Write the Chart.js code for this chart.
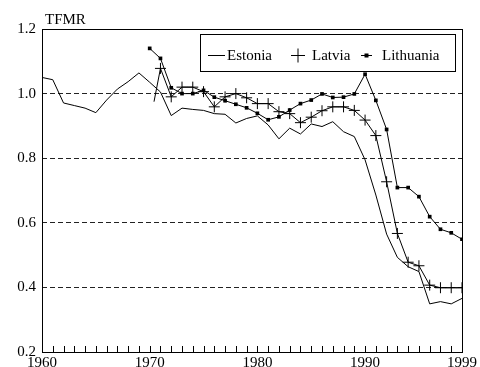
<!DOCTYPE html>
<html>
<head>
<meta charset="utf-8">
<script src="https://cdn.jsdelivr.net/npm/chart.js@4"></script>
<style>
  html, body { margin: 0; padding: 0; background: #fff; }
  canvas { display: block; }
</style>
</head>
<body>
<canvas id="tfmrChart" width="480" height="367"></canvas>
<script>
// Total first marriage rate (TFMR) in the Baltic states

const estoniaYears = [1960, 1961, 1962, 1963, 1964, 1965, 1966, 1967, 1968, 1969,
  1970, 1971, 1972, 1973, 1974, 1975, 1976, 1977, 1978, 1979,
  1980, 1981, 1982, 1983, 1984, 1985, 1986, 1987, 1988, 1989,
  1990, 1991, 1992, 1993, 1994, 1995, 1996, 1997, 1998, 1999];
const estoniaTfmr = [1.050, 1.043, 0.971, 0.963, 0.955, 0.941, 0.980, 1.014, 1.037, 1.064,
  1.035, 1.005, 0.932, 0.955, 0.951, 0.948, 0.938, 0.936, 0.909, 0.923,
  0.931, 0.903, 0.860, 0.893, 0.875, 0.906, 0.898, 0.913, 0.882, 0.867,
  0.795, 0.686, 0.565, 0.493, 0.464, 0.449, 0.349, 0.356, 0.349, 0.366];

// the Latvian line starts a little after 1970, without a marker
const latviaYears = [1970.4, 1971, 1972, 1973, 1974, 1975, 1976, 1977, 1978, 1979,
  1980, 1981, 1982, 1983, 1984, 1985, 1986, 1987, 1988, 1989,
  1990, 1991, 1992, 1993, 1994, 1995, 1996, 1997, 1998, 1999];
const latviaTfmr = [0.975, 1.078, 0.990, 1.020, 1.020, 1.006, 0.959, 0.990, 1.000, 0.987,
  0.969, 0.969, 0.944, 0.938, 0.910, 0.927, 0.947, 0.959, 0.959, 0.948,
  0.918, 0.870, 0.727, 0.567, 0.478, 0.467, 0.407, 0.399, 0.399, 0.399];

const lithuaniaYears = [1970, 1971, 1972, 1973, 1974, 1975, 1976, 1977, 1978, 1979,
  1980, 1981, 1982, 1983, 1984, 1985, 1986, 1987, 1988, 1989,
  1990, 1991, 1992, 1993, 1994, 1995, 1996, 1997, 1998, 1999];
const lithuaniaTfmr = [1.140, 1.109, 1.018, 1.000, 1.000, 1.010, 0.989, 0.978, 0.967, 0.956,
  0.939, 0.919, 0.928, 0.949, 0.969, 0.980, 0.999, 0.988, 0.989, 0.999,
  1.060, 0.979, 0.889, 0.709, 0.709, 0.681, 0.619, 0.580, 0.569, 0.549];

const seriesNames = ['Estonia', 'Latvia', 'Lithuania'];
const xTickLabels = [1960, 1970, 1980, 1990, 1999];
const yTickValues = [0.2, 0.4, 0.6, 0.8, 1.0, 1.2];
const yAxisTitle = 'TFMR';

const FONT_FAMILY = "'Liberation Serif', 'Times New Roman', serif";
const FONT_SIZE = 15;
const FONT = `${FONT_SIZE}px ${FONT_FAMILY}`;

const toPoints = (xs, ys) => xs.map((x, i) => ({ x, y: ys[i] }));

// frame, inward yearly ticks, axis title and the boxed legend inside the plot
const frameAndLegend = {
  id: 'frameAndLegend',
  afterDraw(chart) {
    const { ctx, chartArea: a, scales: { x } } = chart;
    ctx.save();
    ctx.strokeStyle = '#000';
    ctx.lineWidth = 1;

    ctx.beginPath();
    for (let yr = x.min + 1; yr < x.max; yr++) {
      const px = Math.round(x.getPixelForValue(yr)) + 0.5;
      ctx.moveTo(px, a.bottom);
      ctx.lineTo(px, a.bottom - 6);
    }
    ctx.stroke();

    ctx.strokeRect(a.left + 0.5, a.top + 0.5, a.right - a.left, a.bottom - a.top);

    ctx.font = FONT;
    ctx.fillStyle = '#000';
    ctx.textAlign = 'left';
    ctx.textBaseline = 'alphabetic';
    ctx.fillText(yAxisTitle, a.left + 3, a.top - 5);

    // legend box
    const bx = a.left + 158, by = a.top + 5, bw = 255, bh = 37;
    ctx.fillStyle = '#fff';
    ctx.fillRect(bx, by, bw, bh);
    ctx.strokeRect(bx + 0.5, by + 0.5, bw, bh);
    const cy = by + 21.5;
    const base = by + 26;
    ctx.fillStyle = '#000';

    ctx.beginPath();
    ctx.moveTo(bx + 8, cy); ctx.lineTo(bx + 25, cy);
    ctx.stroke();
    ctx.fillText(seriesNames[0], bx + 27, base);

    ctx.beginPath();
    ctx.moveTo(bx + 91, cy); ctx.lineTo(bx + 105, cy);
    ctx.moveTo(bx + 98, cy - 7); ctx.lineTo(bx + 98, cy + 7);
    ctx.stroke();
    ctx.fillText(seriesNames[1], bx + 112, base);

    ctx.beginPath();
    ctx.moveTo(bx + 161, cy); ctx.lineTo(bx + 172, cy);
    ctx.stroke();
    ctx.fillRect(bx + 164.5, cy - 2, 4, 4);
    ctx.fillText(seriesNames[2], bx + 182, base);

    ctx.restore();
  }
};

new Chart(document.getElementById('tfmrChart'), {
  type: 'line',
  data: {
    datasets: [
      {
        label: seriesNames[0],
        data: toPoints(estoniaYears, estoniaTfmr),
        borderColor: '#000', borderWidth: 1, pointRadius: 0
      },
      {
        label: seriesNames[1],
        data: toPoints(latviaYears, latviaTfmr),
        borderColor: '#000', borderWidth: 1,
        pointStyle: 'cross',
        pointRadius: c => c.dataIndex === 0 ? 0 : 5.5,
        pointBorderColor: '#000', pointBorderWidth: 1
      },
      {
        label: seriesNames[2],
        data: toPoints(lithuaniaYears, lithuaniaTfmr),
        borderColor: '#000', borderWidth: 1,
        pointStyle: 'rect', pointRadius: 2.6,
        pointBackgroundColor: '#000', pointBorderColor: '#000', pointBorderWidth: 0
      }
    ]
  },
  options: {
    responsive: false,
    animation: false,
    devicePixelRatio: 1,
    layout: { padding: { left: 0, top: 29, right: 18, bottom: 0 } },
    plugins: { legend: { display: false }, tooltip: { enabled: false } },
    elements: { line: { tension: 0 } },
    scales: {
      x: {
        type: 'linear',
        min: 1960, max: 1999,
        afterBuildTicks: s => { s.ticks = xTickLabels.map(v => ({ value: v })); },
        afterFit: s => { s.height = 15; },
        grid: { display: false, drawTicks: false },
        border: { display: false },
        ticks: {
          autoSkip: false, maxRotation: 0, padding: 2,
          color: '#000', font: { family: FONT_FAMILY, size: FONT_SIZE },
          callback: v => String(v)
        }
      },
      y: {
        min: 0.2, max: 1.2,
        afterBuildTicks: s => { s.ticks = yTickValues.map(v => ({ value: v })); },
        afterFit: s => { s.width = 42; },
        grid: {
          drawTicks: false,
          lineWidth: 1,
          color: c => (c.tick && (c.tick.value < 0.3 || c.tick.value > 1.1)) ? 'rgba(0,0,0,0)' : '#222'
        },
        border: { display: false, dash: [5, 3] },
        ticks: {
          padding: 6,
          color: '#000', font: { family: FONT_FAMILY, size: FONT_SIZE },
          callback: v => Number(v).toFixed(1)
        }
      }
    }
  },
  plugins: [frameAndLegend]
});
</script>
</body>
</html>
